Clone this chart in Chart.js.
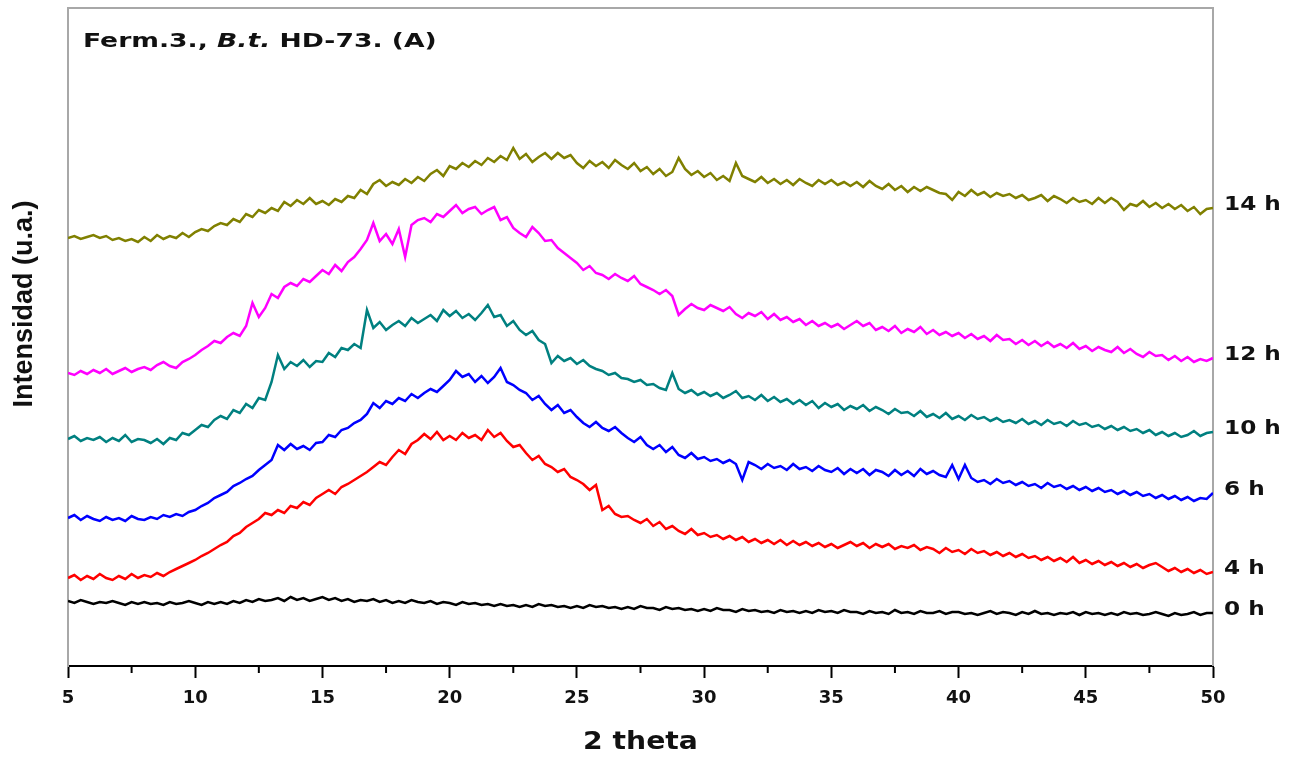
<!DOCTYPE html>
<html>
<head>
<meta charset="utf-8">
<script src="https://cdn.jsdelivr.net/npm/chart.js@4/dist/chart.umd.min.js"></script>
<style>
  html, body { margin: 0; padding: 0; background: #ffffff; }
  #wrap { width: 1291px; height: 761px; position: relative; }
</style>
</head>
<body>
<div id="wrap"><canvas id="xrd" width="1291" height="761"></canvas></div>
<script>
// Diffraction angle grid (2θ, degrees), sampled every 0.25°
const angleStart = 5;
const angleStep = 0.25;
const angleCount = 181;
const twoTheta = [];
for (let i = 0; i < angleCount; i++) twoTheta.push(angleStart + i * angleStep);

const xTickValues = [5, 10, 15, 20, 25, 30, 35, 40, 45, 50];
const seriesNames = ['0 h', '4 h', '6 h', '10 h', '12 h', '14 h'];
const seriesColors = ['#000000', '#ff0000', '#0000ff', '#008080', '#ff00ff', '#808000'];

// Intensity (u.a.) per fermentation time, offset-stacked patterns
const h0 = [
  65,63,66,64, 62,64,63,65, 63,61,64,62, 64,62,63,61, 64,62,63,65,
  63,61,64,62, 64,62,65,63, 66,64,67,65, 66,68,65,69, 66,68,65,67,
  69,66,68,65, 67,64,66,65, 67,64,66,63, 65,63,66,64, 63,65,62,64,
  63,61,64,62, 63,61,62,60, 62,60,61,59, 61,59,62,60, 61,59,60,58,
  60,58,61,59, 60,58,59,57, 59,57,60,58, 58,56,59,57, 58,56,57,55,
  57,55,58,56, 56,54,57,55, 56,54,55,53, 56,54,55,53, 55,53,56,54,
  55,53,56,54, 54,52,55,53, 54,52,56,53, 54,52,55,53, 53,55,52,54,
  54,52,53,51, 53,55,52,54, 53,51,54,52, 55,52,53,51, 53,52,54,51,
  54,52,53,51, 53,51,54,52, 53,51,52,54, 52,50,53,51, 52,54,51,53,
  53
];
const h4 = [
  88,91,86,90, 87,92,88,86, 90,87,92,88, 91,89,93,90, 94,97,100,103,
  106,110,113,117, 121,124,130,133, 139,143,147,153, 151,156,153,160, 158,164,161,168,
  172,176,172,179, 182,186,190,194, 199,204,201,209, 216,212,222,226, 232,227,234,226,
  230,226,233,228, 231,226,236,229, 233,225,219,221, 213,206,210,202, 199,194,197,189,
  186,182,176,181, 156,160,152,149, 150,146,143,147, 140,144,137,140, 135,132,137,131,
  133,129,131,127, 130,126,129,124, 127,123,126,122, 126,121,125,121, 124,120,123,119,
  122,118,121,124, 120,123,118,122, 119,122,117,120, 118,121,116,119, 117,113,118,114,
  116,112,117,113, 115,111,114,110, 113,109,112,108, 110,106,109,105, 108,104,109,103,
  106,102,105,101, 104,100,103,99, 102,98,101,103, 99,95,98,94, 97,93,96,92,
  94
];
const h6 = [
  148,151,146,150, 147,145,149,146, 148,145,150,147, 146,149,147,151, 149,152,150,154,
  156,160,163,168, 171,174,180,183, 187,190,196,201, 206,221,216,222, 217,220,216,223,
  224,231,229,236, 238,243,246,252, 263,258,265,262, 268,265,272,268, 273,277,274,280,
  286,295,289,292, 284,290,283,289, 298,284,281,276, 273,266,270,262, 256,261,253,256,
  249,243,239,244, 238,235,239,233, 228,224,229,221, 217,221,214,219, 211,208,213,207,
  209,205,207,203, 206,202,186,204, 201,197,202,198, 200,196,202,197, 199,195,200,196,
  194,198,192,197, 193,197,191,196, 194,190,196,191, 195,190,197,192, 195,191,189,201,
  187,201,188,184, 186,182,187,183, 185,181,184,180, 182,178,183,179, 181,177,180,176,
  179,175,178,174, 176,172,175,171, 174,170,172,168, 171,167,170,166, 169,165,168,167,
  173
];
const h10 = [
  227,230,225,228, 226,229,224,228, 225,231,224,227, 226,223,227,222, 228,226,233,231,
  236,241,239,246, 250,247,256,253, 262,258,268,266, 284,311,297,304, 300,306,299,305,
  304,313,309,318, 316,322,318,356, 338,344,336,341, 345,340,348,343, 347,351,345,356,
  350,355,348,352, 346,353,361,349, 351,340,345,336, 331,335,326,322, 303,310,305,308,
  302,306,300,297, 295,291,293,288, 287,284,286,281, 282,278,276,293, 277,273,276,271,
  274,270,273,268, 271,275,268,270, 266,271,265,269, 264,267,262,266, 261,265,258,263,
  259,262,256,260, 257,261,255,259, 256,252,257,253, 254,250,255,249, 252,248,253,247,
  250,246,251,247, 249,245,248,244, 246,243,247,242, 245,241,246,242, 244,240,245,241,
  243,239,241,237, 240,236,239,235, 237,233,236,231, 234,230,233,229, 231,235,230,233,
  234
];
const h12 = [
  293,291,295,292, 296,293,297,292, 295,298,294,297, 299,296,301,304, 300,298,304,307,
  311,316,320,325, 323,329,333,330, 340,363,349,358, 372,368,379,383, 380,387,384,390,
  396,392,401,395, 404,409,417,426, 443,425,432,422, 437,409,441,446, 448,444,452,449,
  455,461,453,457, 459,452,456,459, 446,449,438,433, 429,439,433,425, 426,418,413,408,
  403,396,400,393, 391,387,392,388, 385,390,382,379, 376,372,376,370, 351,357,362,358,
  356,361,358,355, 359,352,348,353, 350,354,347,352, 346,349,344,347, 341,345,340,343,
  339,342,337,341, 345,340,343,336, 339,335,340,333, 337,334,339,332, 336,331,334,330,
  333,328,332,327, 330,325,331,326, 327,322,326,321, 325,320,324,319, 322,318,323,317,
  320,315,319,316, 314,319,313,317, 312,309,314,310, 311,306,310,305, 309,304,307,305,
  308
];
const h14 = [
  428,430,427,429, 431,428,430,426, 428,425,427,424, 429,425,431,427, 430,428,433,429,
  434,437,435,440, 443,441,447,444, 452,449,456,453, 458,455,464,460, 466,462,468,462,
  465,461,467,464, 470,468,476,472, 482,486,480,484, 481,487,483,489, 485,492,496,490,
  500,497,503,499, 505,501,508,504, 510,506,518,507, 512,504,509,513, 507,513,508,511,
  503,498,505,500, 504,498,506,501, 497,503,495,499, 492,497,490,494, 508,497,491,495,
  489,493,486,490, 485,503,490,487, 484,489,483,487, 482,486,481,487, 483,480,486,482,
  486,481,484,480, 484,479,485,480, 477,482,476,480, 474,479,475,479, 476,473,472,466,
  474,470,476,471, 474,469,473,470, 472,468,471,466, 468,471,465,470, 467,463,468,464,
  466,462,468,463, 468,464,456,462, 460,465,459,463, 458,462,457,461, 455,459,452,457,
  458
];
const seriesValues = [h0, h4, h6, h10, h12, h14];

const datasets = seriesValues.map((vals, k) => ({
  label: seriesNames[k],
  data: vals.map((v, i) => ({ x: twoTheta[i], y: v })),
  borderColor: seriesColors[k],
  borderWidth: 2.5,
  pointRadius: 0,
  tension: 0,
  fill: false
}));

function drawStretched(ctx, parts, x, y, sx, align) {
  ctx.save();
  let total = 0;
  for (const p of parts) { ctx.font = p.font; total += ctx.measureText(p.text).width; }
  ctx.translate(x, y);
  ctx.scale(sx, 1);
  let cx = align === 'center' ? -total / 2 : 0;
  ctx.textAlign = 'left';
  for (const p of parts) {
    ctx.font = p.font;
    ctx.fillText(p.text, cx, 0);
    cx += ctx.measureText(p.text).width;
  }
  ctx.restore();
}

// Frame, minor ticks and annotation text
const decorations = {
  id: 'decorations',
  beforeDatasetsDraw(chart) {
    const { ctx, chartArea: a } = chart;
    ctx.save();
    ctx.strokeStyle = '#a8a8a8';
    ctx.lineWidth = 2;
    ctx.beginPath();
    ctx.moveTo(a.left, a.top);
    ctx.lineTo(a.right, a.top);
    ctx.lineTo(a.right, a.bottom);
    ctx.stroke();
    ctx.restore();
  },
  afterDraw(chart) {
    const { ctx, chartArea: a } = chart;
    const xs = chart.scales.x, ys = chart.scales.y;
    ctx.save();
    // minor ticks
    ctx.strokeStyle = '#000';
    ctx.lineWidth = 2;
    xs.ticks.forEach(t => {
      if (t.value % 5 !== 0) {
        const px = xs.getPixelForValue(t.value);
        ctx.beginPath();
        ctx.moveTo(px, a.bottom);
        ctx.lineTo(px, a.bottom + 7);
        ctx.stroke();
      }
    });
    ctx.fillStyle = '#111';
    ctx.textBaseline = 'alphabetic';
    // panel title
    drawStretched(ctx, [
      { text: 'Ferm.3., ', font: 'bold 19px "DejaVu Sans"' },
      { text: 'B.t.', font: 'italic bold 19px "DejaVu Sans"' },
      { text: ' HD-73. (A)', font: 'bold 19px "DejaVu Sans"' }
    ], a.left + 15, 47, 1.4, 'left');
    // series labels at the end of each pattern
    ctx.textBaseline = 'middle';
    seriesValues.forEach((vals, k) => {
      const py = ys.getPixelForValue(vals[vals.length - 1]) - 3;
      drawStretched(ctx, [{ text: seriesNames[k], font: 'bold 19px "DejaVu Sans"' }], a.right + 11, py, 1.22, 'left');
    });
    // axis titles
    drawStretched(ctx, [{ text: '2 theta', font: 'bold 25px "DejaVu Sans"' }], (a.left + a.right) / 2, 742, 1.13, 'center');
    ctx.save();
    ctx.translate(25, 304);
    ctx.rotate(-Math.PI / 2);
    ctx.font = 'bold 27px "Liberation Sans"';
    ctx.textAlign = 'center';
    ctx.textBaseline = 'middle';
    ctx.fillText('Intensidad (u.a.)', 0, 0);
    ctx.restore();
    ctx.restore();
  }
};

new Chart(document.getElementById('xrd'), {
  type: 'line',
  data: { datasets },
  options: {
    responsive: false,
    animation: false,
    devicePixelRatio: 1,
    layout: { padding: { top: 8, right: 78, left: 0, bottom: 0 } },
    plugins: { legend: { display: false }, tooltip: { enabled: false } },
    scales: {
      x: {
        type: 'linear',
        min: 5,
        max: 50,
        afterFit(s) { s.height = 95; },
        ticks: {
          stepSize: 2.5,
          autoSkip: false,
          maxRotation: 0,
          padding: 10,
          color: '#111',
          font: { family: 'DejaVu Sans', weight: 'bold', size: 18 },
          callback: v => (xTickValues.includes(v) ? String(v) : '')
        },
        grid: {
          display: true,
          drawOnChartArea: false,
          drawTicks: true,
          tickLength: 12,
          tickWidth: 2,
          tickColor: c => (c.tick && xTickValues.includes(c.tick.value) ? '#000' : 'rgba(0,0,0,0)')
        },
        border: { display: true, color: '#000', width: 2 }
      },
      y: {
        min: 0,
        max: 658,
        afterFit(s) { s.width = 68; },
        ticks: { display: false },
        grid: { display: false },
        border: { display: true, color: '#a8a8a8', width: 2 }
      }
    }
  },
  plugins: [decorations]
});
</script>
</body>
</html>
